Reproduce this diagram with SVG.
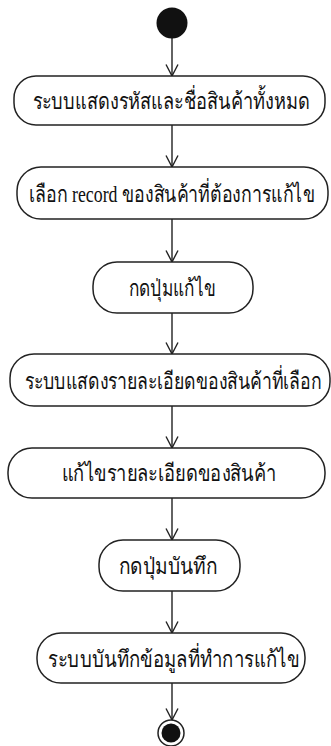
<svg xmlns="http://www.w3.org/2000/svg" width="331" height="746" viewBox="0 0 331 746">
<style>
.n{fill:#fff;stroke:#222;stroke-width:1.5}
.t{font-family:"Liberation Serif","Noto Sans","DejaVu Sans",serif;font-size:23px;fill:#111;text-anchor:middle;dominant-baseline:central}
.c{stroke:#222;stroke-width:1.4;fill:none}
</style>
<defs>
<marker id="a" markerWidth="16" markerHeight="14" refX="14.5" refY="7" orient="auto" markerUnits="userSpaceOnUse" viewBox="0 0 16 14">
<path d="M3,1 L14.5,7 L3,13" fill="none" stroke="#222" stroke-width="1.4"/>
</marker>
</defs>
<rect width="331" height="746" fill="#fff"/>
<g id="connectors">
<line class="c" x1="172" y1="38" x2="172" y2="76" marker-end="url(#a)"/>
<line class="c" x1="172" y1="125" x2="172" y2="167" marker-end="url(#a)"/>
<line class="c" x1="172" y1="219" x2="172" y2="262" marker-end="url(#a)"/>
<line class="c" x1="172" y1="313" x2="172" y2="354" marker-end="url(#a)"/>
<line class="c" x1="172" y1="406" x2="172" y2="448" marker-end="url(#a)"/>
<line class="c" x1="172" y1="498" x2="172" y2="540" marker-end="url(#a)"/>
<line class="c" x1="172" y1="591" x2="172" y2="633" marker-end="url(#a)"/>
<line class="c" x1="172" y1="683" x2="172" y2="720" marker-end="url(#a)"/>
</g>
<g id="start"><circle cx="172" cy="23" r="15.5" fill="#111"/></g>
<g id="n1"><rect class="n" x="14" y="76" width="311" height="49" rx="22"/><text class="t" x="171" y="101" textLength="277" lengthAdjust="spacingAndGlyphs">ระบบแสดงรหัสและชื่อสินค้าทั้งหมด</text></g>
<g id="n2"><rect class="n" x="17" y="167" width="311" height="52" rx="24"/><text class="t" x="172" y="194" textLength="286" lengthAdjust="spacingAndGlyphs">เลือก record ของสินค้าที่ต้องการแก้ไข</text></g>
<g id="n3"><rect class="n" x="93" y="262" width="160" height="51" rx="24"/><text class="t" x="172" y="288" textLength="87" lengthAdjust="spacingAndGlyphs">กดปุ่มแก้ไข</text></g>
<g id="n4"><rect class="n" x="10" y="354" width="320" height="52" rx="24"/><text class="t" x="173" y="381" textLength="297" lengthAdjust="spacingAndGlyphs">ระบบแสดงรายละเอียดของสินค้าที่เลือก</text></g>
<g id="n5"><rect class="n" x="8" y="448" width="317" height="50" rx="24"/><text class="t" x="169" y="473" textLength="215" lengthAdjust="spacingAndGlyphs">แก้ไขรายละเอียดของสินค้า</text></g>
<g id="n6"><rect class="n" x="99" y="540" width="141" height="51" rx="24"/><text class="t" x="168" y="566" textLength="99" lengthAdjust="spacingAndGlyphs">กดปุ่มบันทึก</text></g>
<g id="n7"><rect class="n" x="37" y="633" width="268" height="50" rx="24"/><text class="t" x="174" y="659" textLength="252" lengthAdjust="spacingAndGlyphs">ระบบบันทึกข้อมูลที่ทำการแก้ไข</text></g>
<g id="end"><circle cx="171" cy="733" r="13" fill="#fff" stroke="#222" stroke-width="1.5"/><circle cx="171" cy="733" r="9.5" fill="#111"/></g>
</svg>
